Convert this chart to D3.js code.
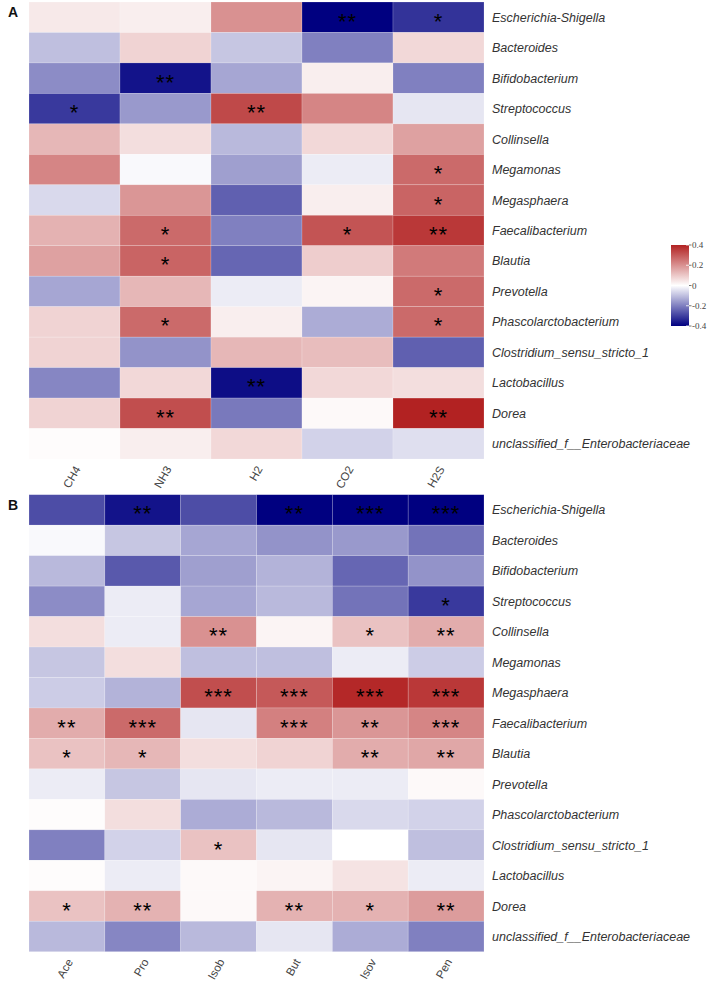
<!DOCTYPE html>
<html><head><meta charset="utf-8">
<script src="https://cdn.jsdelivr.net/npm/d3@7"></script>
<style>body{margin:0;background:#fff}</style>
</head><body><svg id="c" width="708" height="982"></svg>
<script>
const genera = ["Escherichia-Shigella","Bacteroides","Bifidobacterium","Streptococcus","Collinsella","Megamonas","Megasphaera","Faecalibacterium","Blautia","Prevotella","Phascolarctobacterium","Clostridium_sensu_stricto_1","Lactobacillus","Dorea","unclassified_f__Enterobacteriaceae"];
const gasCols = ["CH4","NH3","H2","CO2","H2S"];
const gasValues = [
 [0.04,0.03,0.20,-0.40,-0.32],
 [-0.10,0.08,-0.09,-0.20,0.07],
 [-0.18,-0.37,-0.14,0.03,-0.20],
 [-0.31,-0.16,0.33,0.22,-0.04],
 [0.13,0.06,-0.11,0.07,0.17],
 [0.22,-0.01,-0.15,-0.03,0.27],
 [-0.06,0.19,-0.25,0.03,0.28],
 [0.14,0.27,-0.20,0.31,0.36],
 [0.17,0.28,-0.24,0.09,0.24],
 [-0.14,0.13,-0.03,0.02,0.27],
 [0.08,0.27,0.03,-0.13,0.27],
 [0.08,-0.17,0.13,0.12,-0.25],
 [-0.19,0.07,-0.38,0.07,0.06],
 [0.08,0.32,-0.21,0.01,0.40],
 [0.005,0.03,0.07,-0.07,-0.05]
];
const gasSig = [
 ["","","","**","*"],
 ["","","","",""],
 ["","**","","",""],
 ["*","","**","",""],
 ["","","","",""],
 ["","","","","*"],
 ["","","","","*"],
 ["","*","","*","**"],
 ["","*","","",""],
 ["","","","","*"],
 ["","*","","","*"],
 ["","","","",""],
 ["","","**","",""],
 ["","**","","","**"],
 ["","","","",""]
];
const scfaCols = ["Ace","Pro","Isob","But","Isov","Pen"];
const scfaValues = [
 [-0.28,-0.37,-0.28,-0.40,-0.42,-0.42],
 [-0.01,-0.09,-0.14,-0.17,-0.16,-0.22],
 [-0.11,-0.26,-0.15,-0.12,-0.24,-0.17],
 [-0.18,-0.03,-0.14,-0.11,-0.22,-0.31],
 [0.06,-0.03,0.20,0.02,0.11,0.15],
 [-0.09,0.06,-0.10,-0.10,-0.03,-0.08],
 [-0.08,-0.12,0.32,0.30,0.39,0.36],
 [0.15,0.27,-0.04,0.23,0.19,0.22],
 [0.11,0.13,0.06,0.08,0.15,0.16],
 [-0.03,-0.09,-0.04,-0.03,-0.03,0.01],
 [0.005,0.06,-0.13,-0.11,-0.06,-0.07],
 [-0.20,-0.07,0.11,-0.04,0.0,-0.10],
 [0.005,-0.03,0.01,0.02,0.05,-0.03],
 [0.11,0.14,0.01,0.14,0.14,0.18],
 [-0.11,-0.19,-0.11,-0.04,-0.13,-0.20]
];
const scfaSig = [
 ["","**","","**","***","***"],
 ["","","","","",""],
 ["","","","","",""],
 ["","","","","","*"],
 ["","","**","","*","**"],
 ["","","","","",""],
 ["","","***","***","***","***"],
 ["**","***","","***","**","***"],
 ["*","*","","","**","**"],
 ["","","","","",""],
 ["","","","","",""],
 ["","","*","","",""],
 ["","","","","",""],
 ["*","**","","**","*","**"],
 ["","","","","",""]
];
const legendTicks = [0.4,0.2,0,-0.2,-0.4];

const svg = d3.select("#c");
const color = d3.scaleLinear().domain([-0.4,0,0.4]).range(["#000080","#ffffff","#B22222"]).interpolate(d3.interpolateRgb).clamp(true);

function panel(cols, vals, sig, top, label){
  const g = svg.append("g");
  const x = d3.scaleBand().domain(cols).range([29,484]);
  const y = d3.scaleBand().domain(genera).range([top, top + 457]);
  const cells = [];
  vals.forEach((row,i)=>row.forEach((v,j)=>cells.push({r:genera[i],c:cols[j],v:v,s:sig[i][j]})));
  g.selectAll("rect.cell").data(cells).join("rect")
    .attr("x",d=>x(d.c)).attr("y",d=>y(d.r))
    .attr("width",x.bandwidth()).attr("height",y.bandwidth())
    .attr("fill",d=>color(d.v))
    .attr("stroke","rgba(255,255,255,0.3)").attr("stroke-width",0.6);
  g.selectAll("text.sig").data(cells.filter(d=>d.s)).join("text")
    .attr("x",d=>x(d.c)+x.bandwidth()/2).attr("y",d=>y(d.r)+y.bandwidth()/2+11.5)
    .attr("text-anchor","middle").attr("font-family","Liberation Sans, Arial, sans-serif")
    .attr("font-size",22).attr("fill","#000").attr("letter-spacing",1).text(d=>d.s);
  g.selectAll("text.row").data(genera).join("text")
    .attr("x",492).attr("y",d=>y(d)+y.bandwidth()/2+4.5)
    .attr("font-family","Liberation Sans, Arial, sans-serif").attr("font-style","italic")
    .attr("font-size",12.5).attr("fill","#333").text(d=>d);
  const by = top + 457;
  g.selectAll("text.col").data(cols).join("text")
    .attr("transform",d=>`translate(${x(d)+x.bandwidth()/2+3},${by+8}) rotate(-60)`)
    .attr("text-anchor","end").attr("dy","0.35em")
    .attr("font-family","Liberation Sans, Arial, sans-serif")
    .attr("font-size",11.5).attr("fill","#444").text(d=>d);
  svg.append("text").attr("x",8).attr("y",top+15).attr("font-family","Liberation Sans, Arial, sans-serif")
    .attr("font-weight","bold").attr("font-size",14).attr("fill","#111").text(label);
}
panel(gasCols, gasValues, gasSig, 2, "A");
panel(scfaCols, scfaValues, scfaSig, 494.7, "B");

// legend
const ly = d3.scaleLinear().domain([0.4,-0.4]).range([245,326]);
const defs = svg.append("defs");
const grad = defs.append("linearGradient").attr("id","lg").attr("x1",0).attr("y1",0).attr("x2",0).attr("y2",1);
d3.range(0,1.0001,0.05).forEach(t=>{
  grad.append("stop").attr("offset",t).attr("stop-color",color(0.4-0.8*t));
});
svg.append("rect").attr("x",671).attr("y",ly(0.4)).attr("width",18).attr("height",ly(-0.4)-ly(0.4)).attr("fill","url(#lg)");
const lg = svg.append("g");
lg.selectAll("line").data(legendTicks).join("line")
  .attr("x1",686).attr("x2",689).attr("y1",d=>ly(d)).attr("y2",d=>ly(d))
  .attr("stroke","#fff").attr("stroke-width",0.8);
lg.selectAll("line.o").data(legendTicks).join("line").attr("class","o")
  .attr("x1",689).attr("x2",691.5).attr("y1",d=>ly(d)).attr("y2",d=>ly(d))
  .attr("stroke","#555").attr("stroke-width",0.8);
lg.selectAll("text").data(legendTicks).join("text")
  .attr("x",692).attr("y",d=>ly(d)+3)
  .attr("font-family","Liberation Serif, Times New Roman, serif").attr("font-size",9).attr("fill","#444")
  .text(d=>d);
</script></body></html>
